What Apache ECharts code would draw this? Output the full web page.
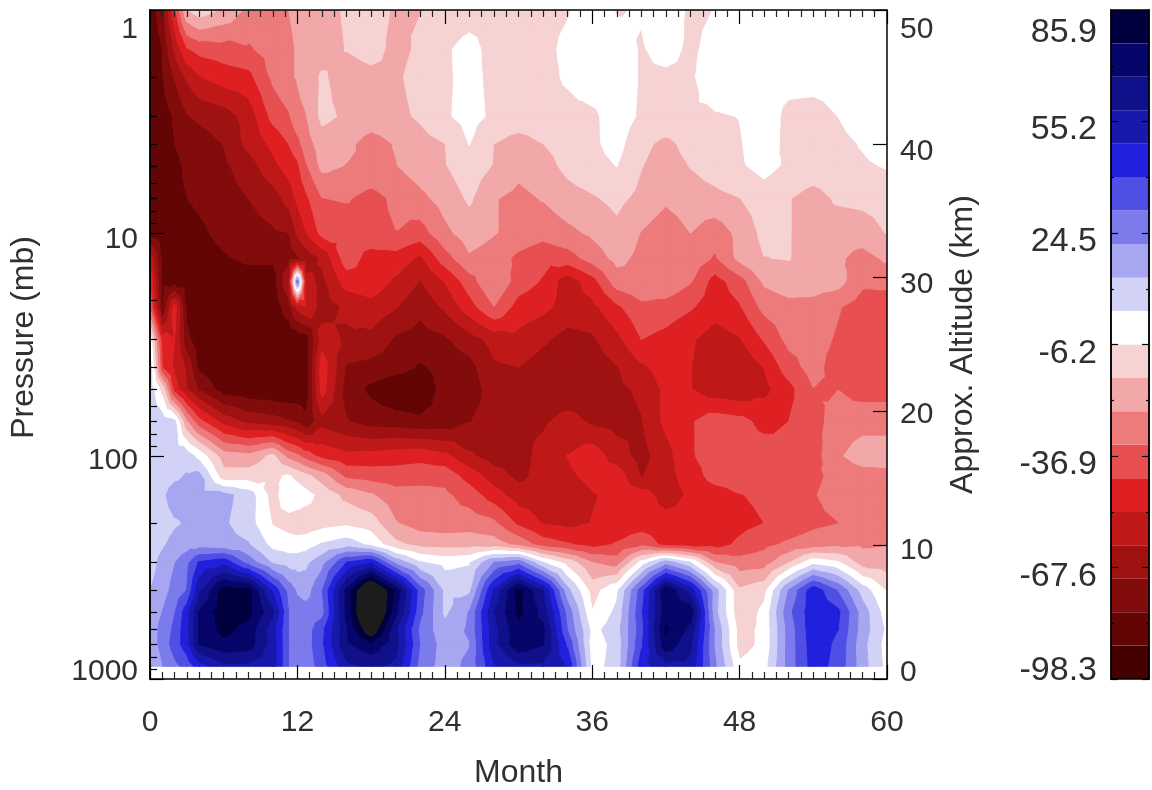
<!DOCTYPE html>
<html><head><meta charset="utf-8">
<style>html,body{margin:0;padding:0;background:#fff}#c{width:1152px;height:790px}</style>
<script src="https://cdn.jsdelivr.net/npm/echarts@6/dist/echarts.min.js"></script>
</head><body><div id="c"></div>
<script>
const months=[0,1,2,3,4,6,8,10,11.3,12,12.7,14,16,18,20,22,24,26,28,30,32,34,36,38,40,42,44,46,48,50,52,54,56,58,60];
const pressures=[1,1.5,2,3,4,5,7,10,13,16.5,21.5,30,40,50,70,100,123,150,200,250,300,400,500,600,700,877];
const temps=[
[-85,-75,-45,-16,-10,-17,-27,-28,-24.6,-23,-22,-20,-14,-12,-16.5,-15.6,-14,-12,-11,-10,-9,-7,0,-6.8,-5.5,0,-8,-6,0,-1,-1,-1,-1,-1,-1],
[-85,-80,-60,-44,-40,-38,-35,-30,-26,-24,-23,-20,-15,-12,-18,-14,-8,-2,-11,-11,-9,-4,0,-2,-7,-3,-8,-3,0,0,0,0,0,0,0],
[-85,-80.5,-70,-60,-53,-48,-46,-32,-26,-24,-21,-14,-20,-18,-17,-12,-8,-3,-9,-9,-9,-5,-1,-1.5,-7,-8,-7.5,-1,-1,-1,-2.5,-2.5,-2,-1,-1],
[-86,-84,-79,-71.5,-69,-66,-58,-40,-35,-27,-25,-13,-17,-19,-18,-14,-7.5,-3,-8,-9,-9,-9,-8,-2,-7.5,-8,-7.5,-7,-6,-1,-9,-10,-6.2,-1,-1],
[-86,-84,-80,-77,-75,-70.5,-59,-50,-43,-37,-29,-20,-22,-29,-24,-19,-15.6,-6,-15.5,-20,-15.5,-12,-8,-3,-13,-18,-12,-9,-7,0,-10,-10,-9,-5.5,-2],
[-86,-85,-82,-78.5,-77,-72.5,-66,-55,-48,-45,-35,-22,-25,-27,-25,-20,-16,-10,-16,-22,-19,-13,-9,-6,-15,-20,-15,-11,-7.5,-3,-8,-10,-9,-7.5,-5.5],
[-85,-84,-82,-80,-78,-74,-70.7,-66,-58,-50,-45,-34,-33,-37,-32,-27,-21,-14,-24,-27,-24,-19,-16.5,-13,-18,-23,-20,-18,-15.6,-11,-15,-19,-14,-13,-12],
[-82,-85,-85,-84,-82,-77,-74,-72,-70.7,-60,-52.5,-40,-39,-37,-34,-38,-27,-20,-24,-28,-31,-27,-23,-18,-25,-30,-24.6,-30,-22,-13,-15,-19,-21,-20,-15],
[-55,-82,-84,-85,-85,-81,-78,-78,-75,-72,-68,-60,-38,-47,-47,-54,-38,-26,-29,-36,-40,-38,-30,-22,-27,-29,-28,-35,-22,-15.6,-15,-20,-23,-28,-23],
[-45,-83,-85,-85,-85.5,-86,-85,-85,-62,28,-58,-64,-48,-46,-54,-62,-52,-38,-25,-38,-44,-58,-47,-29,-27,-26,-33,-47,-38,-23,-19,-20,-21,-32,-31],
[-35,-81,-48,-82,-86,-86,-86,-86,-75,-58,-53,-66,-60,-56,-61,-68,-60,-47,-34,-47,-50,-56,-55,-45,-36,-38,-42,-48,-44,-31,-28,-28,-33,-38,-40],
[0,-48,-52,-78,-85,-86,-87,-87,-87,-87,-85,-57,-63,-64,-72,-75,-72,-66,-58,-55,-60,-65,-63,-55,-43,-46,-51,-57,-53,-42,-31,-30,-35,-40,-40],
[8,-43,-54,-63,-82,-86,-87,-88,-88,-87,-86,-47,-72,-74,-76,-81,-77,-74,-63,-61.5,-66,-68,-66,-62,-54,-48,-52,-58,-60,-52,-38,-30,-39,-40,-38],
[8,-10,-48,-61.5,-72,-85,-87,-88,-88,-87,-85,-48,-75,-82,-88,-88,-76,-75,-67,-66,-68,-69,-67,-63.5,-60,-50,-52,-58,-60,-55,-46,-34,-34,-38,-38],
[8,8,5,-24,-40,-56,-64,-67,-70,-72,-78,-65,-70,-75,-76,-78,-77,-71,-68,-63,-63,-58,-63,-65,-62,-50,-44,-38,-40,-46,-43,-37,-30,-28,-28],
[8,8,8,8,0,-20,-22,-13,-28,-32,-38,-46,-50,-49,-47,-46,-50,-60,-66,-66,-58,-52,-47,-57,-65,-56,-44,-39,-38,-38,-41,-38,-26,-20,-20],
[8,8,10,13,15,-12,-11,-8,-5,-9,-13,-20,-36,-38,-39,-38,-37,-47,-57,-64,-58,-54,-50,-47,-62,-56,-48,-39,-38,-38,-40,-36,-31,-29,-28],
[8,10,17,16,15,15,8,-10,0,0,-3,-9,-18,-23.5,-30,-30,-32,-38,-48,-57,-57,-57,-53,-50,-48,-56,-51,-48,-43.5,-41,-37,-34.5,-30,-28,-28],
[8,8,11,13,14,13.5,7,-7,-10,-12,-12,-10,-8,-11,-24,-29,-30,-29,-32,-45,-53,-55,-52,-50,-48,-49,-50,-50,-46,-43,-40,-36,-34,-29,-28],
[8,11,15,17,17,15,13,0,-2,-2,-1,4,8,1,-13,-18,-19,-19,-20,-27,-38,-42,-46,-42,-36,-46,-48,-47,-41,-36,-32,-29,-27,-26,-25],
[8,15,21,28,41,46,27,11,8,8,10,18,40,48,19,3.5,0,2,21.5,27,3,-10,-24.6,-29,-3,17,3,-24.6,-30,-29,-16,0,-5,-20,-21],
[12,17,25,31,56,81,80,47,27,20,17,30,70,105,75,35,10,10,50,80,58,15,-10,1,35,76,55,16,-14,-9,22,46,30,8,-7],
[17,21.5,30,45,68,82,80,60,30,26,25.5,27,70,110,70,33,10,22,58,79,64,27,-6,5,38,73,73,15,-13,-4,28,46,42,17,-2],
[17,24,33,46,68,80,73,53,30,27,26,37,66,95,60,28,15,23,55,74,70,30,0,8,36,78,65,20,-10,-4,25,46,40,17,1],
[17,24,35,45,68,74,72,54,30,26,26,38,66,74,62,30,17,21,55,74,68,38,-2,6,38,74,60,20,-10,-4,25,45,38,15,-1],
[13,21,28,34,45,56,56,54,30,26,25,35,56,60,56,27,17,24,48,56,56,48,0,6,45,55,56,23,-4.5,-1,25,44,37,16,0]
];
const contourLevels=[-98.3,-89.1,-79.9,-70.7,-61.5,-52.3,-43,-33.8,-24.6,-15.4,-6.2,3,12.2,21.5,30.7,39.9,49.1,58.3,67.5,76.7,85.9];
const bandColors=['#450000','#630505','#820b0b','#a01212','#bf1818','#df2023','#e84f50','#ed7b7c','#f2a7a8','#f7d2d3','#ffffff','#d2d2f7','#a7a7f1','#7b7bec','#4f4fe5','#2020dd','#1818ad','#10108a','#05056a','#000040'];
const aboveColor='#1c1c1c';
const pressureTicks=[1,10,100,1000];
const pressureMinorTicks=[2,3,4,5,6,7,8,9,20,30,40,50,60,70,80,90,200,300,400,500,600,700,800,900];
const pressureLabelAnchors=[1.22,10.75,104.5,930];
const altitudeTicks=[0,10,20,30,40,50];
const altitudeLabelAnchors=[0.5,9.6,19.75,29.5,39.4,48.55];
const barTicks=[-98.3,-67.6,-36.9,-6.2,24.5,55.2,85.9];
const barMinorTicks=[-82.95,-52.25,-21.55,9.15,39.85,70.55];
const barLabelAnchors=[-95.9,-70.1,-39.3,-8.6,22.1,53.1,79.7];

function clipBand(tri,lo,hi){
  const clip=(pts,inside,level)=>{
    const out=[];
    for(let i=0;i<pts.length;i++){
      const a=pts[i],b=pts[(i+1)%pts.length],ia=inside(a[2]),ib=inside(b[2]);
      if(ia)out.push(a);
      if(ia!==ib){const t=(level-a[2])/(b[2]-a[2]);out.push([a[0]+t*(b[0]-a[0]),a[1]+t*(b[1]-a[1]),level]);}
    }
    return out;
  };
  let poly=clip(tri,v=>v>=lo,lo);
  if(poly.length)poly=clip(poly,v=>v<=hi,hi);
  return poly;
}
const levelsAll=contourLevels.concat([1e9]);
const colorsAll=bandColors.concat([aboveColor]);
const bandPolys=colorsAll.map(()=>[]);
const logP=pressures.map(p=>Math.log10(p));
for(let j=0;j<pressures.length-1;j++){
  for(let i=0;i<months.length-1;i++){
    const A=[months[i],logP[j],temps[j][i]],B=[months[i+1],logP[j],temps[j][i+1]],
          C=[months[i+1],logP[j+1],temps[j+1][i+1]],D=[months[i],logP[j+1],temps[j+1][i]];
    const M=[(A[0]+B[0])/2,(A[1]+D[1])/2,(A[2]+B[2]+C[2]+D[2])/4];
    [[A,B,M],[B,C,M],[C,D,M],[D,A,M]].forEach(tri=>{
      const vals=tri.map(p=>p[2]),mx=Math.max(...vals),mn=Math.min(...vals);
      for(let b=0;b<levelsAll.length-1;b++){
        if(mx<levelsAll[b]||mn>levelsAll[b+1])continue;
        const poly=clipBand(tri,levelsAll[b],levelsAll[b+1]);
        if(poly.length>=3)bandPolys[b].push(poly.map(p=>[p[0],Math.pow(10,p[1])]));
      }
    });
  }
}
const FONT='Liberation Sans',TXT='#303030',LINE='#000';
const nearest=(list,v)=>list.reduce((a,b)=>Math.abs(b-v)<Math.abs(a-v)?b:a);
const base={splitLine:{show:false},axisLine:{show:true,onZero:false,lineStyle:{color:LINE,width:1.5}},z:10};
const hiddenLabel={show:false};
const xCommon=Object.assign({},base,{type:'value',min:0,max:60,interval:12,
  axisTick:{show:true,inside:true,length:14,lineStyle:{color:LINE,width:1.2}},
  minorTick:{show:true,splitNumber:12,length:7,lineStyle:{color:'#222',width:1.2}}});
const tickStyle=(len,w)=>({show:true,inside:true,length:len,lineStyle:{color:LINE,width:w||1.2}});
const option={
  animation:false,backgroundColor:'#fff',
  textStyle:{fontFamily:FONT},
  grid:[{left:150,top:10,right:265,bottom:111,outerBoundsMode:'none'},{left:1111,top:10,right:3,bottom:111,outerBoundsMode:'none'}],
  xAxis:[
    Object.assign({},xCommon,{gridIndex:0,position:'bottom',name:'Month',nameLocation:'middle',nameGap:78,
      nameTextStyle:{fontFamily:FONT,fontSize:32,color:TXT},
      axisLabel:{show:true,margin:29,fontFamily:FONT,fontSize:30,color:TXT}}),
    Object.assign({},xCommon,{gridIndex:0,position:'top',axisLabel:hiddenLabel}),
    {gridIndex:1,type:'value',min:0,max:1,position:'bottom',splitLine:{show:false},axisLabel:hiddenLabel,axisTick:{show:false},axisLine:{show:true,onZero:false,lineStyle:{color:LINE,width:1.5}},z:10},
    {gridIndex:1,type:'value',min:0,max:1,position:'top',splitLine:{show:false},axisLabel:hiddenLabel,axisTick:{show:false},axisLine:{show:true,onZero:false,lineStyle:{color:LINE,width:1.5}},z:10}
  ],
  yAxis:[
    Object.assign({},base,{gridIndex:0,type:'log',logBase:10,min:1,max:1000,inverse:true,position:'left',
      name:'Pressure (mb)',nameLocation:'middle',nameGap:110,nameRotate:90,
      nameTextStyle:{fontFamily:FONT,fontSize:32,color:TXT,padding:[0,0,0,14]},
      axisTick:Object.assign(tickStyle(14),{customValues:pressureTicks}),
      axisLabel:{show:true,margin:12,fontFamily:FONT,fontSize:30,color:TXT,hideOverlap:false,
        customValues:pressureLabelAnchors,showMinLabel:true,showMaxLabel:true,
        formatter:v=>String(nearest(pressureTicks,Math.pow(10,Math.round(Math.log10(v)))))}}),
    Object.assign({},base,{gridIndex:0,type:'log',logBase:10,min:1,max:1000,inverse:true,position:'left',
      axisTick:Object.assign(tickStyle(7),{customValues:pressureMinorTicks}),
      axisLabel:{show:false,customValues:pressureMinorTicks}}),
    Object.assign({},base,{gridIndex:0,type:'value',min:0,max:50,position:'right',
      name:'Approx. Altitude (km)',nameLocation:'middle',nameGap:60,nameRotate:90,
      nameTextStyle:{fontFamily:FONT,fontSize:32,color:TXT},
      axisTick:Object.assign(tickStyle(14),{customValues:altitudeTicks}),
      axisLabel:{show:true,margin:13,fontFamily:FONT,fontSize:30,color:TXT,hideOverlap:false,
        customValues:altitudeLabelAnchors,formatter:v=>String(nearest(altitudeTicks,v))}}),
    Object.assign({},base,{gridIndex:1,type:'value',min:-98.3,max:85.9,position:'left',
      axisTick:Object.assign(tickStyle(7),{customValues:barTicks}),
      axisLabel:{show:true,margin:14,fontFamily:FONT,fontSize:34,color:TXT,hideOverlap:false,
        customValues:barLabelAnchors,formatter:v=>String(nearest(barTicks,v))}}),
    Object.assign({},base,{gridIndex:1,type:'value',min:-98.3,max:85.9,position:'left',
      axisTick:Object.assign(tickStyle(3),{customValues:barMinorTicks}),axisLabel:{show:false,customValues:barMinorTicks}}),
    Object.assign({},base,{gridIndex:1,type:'value',min:-98.3,max:85.9,position:'right',
      axisTick:Object.assign(tickStyle(7),{customValues:barTicks}),axisLabel:{show:false,customValues:barTicks}}),
    Object.assign({},base,{gridIndex:1,type:'value',min:-98.3,max:85.9,position:'right',
      axisTick:Object.assign(tickStyle(3),{customValues:barMinorTicks}),axisLabel:{show:false,customValues:barMinorTicks}})
  ],
  series:[
    {type:'custom',xAxisIndex:0,yAxisIndex:0,coordinateSystem:'cartesian2d',silent:true,z:1,clip:true,progressive:0,
     encode:{x:0,y:1},
     data:colorsAll.map(()=>[0,1]),
     renderItem:(params,api)=>{
       const b=params.dataIndex,c=colorsAll[b];
       let d='';
       bandPolys[b].forEach(poly=>{
         poly.forEach((q,i)=>{const p=api.coord(q);d+=(i?'L':'M')+p[0].toFixed(2)+' '+p[1].toFixed(2);});
         d+='Z';
       });
       if(!d)return null;
       return {type:'path',shape:{pathData:d},style:{fill:c,stroke:c,lineWidth:1}};
     }},
    {type:'custom',xAxisIndex:2,yAxisIndex:3,coordinateSystem:'cartesian2d',silent:true,z:1,
     encode:{x:0,y:1},
     data:bandColors.map((c,i)=>[0,contourLevels[i],contourLevels[i+1]]),
     renderItem:(params,api)=>{
       const i=params.dataIndex,a=api.coord([0,contourLevels[i]]),b=api.coord([1,contourLevels[i+1]]);
       return {type:'rect',shape:{x:a[0],y:b[1],width:b[0]-a[0],height:a[1]-b[1]},style:{fill:bandColors[i]}};
     }}
  ]
};
echarts.init(document.getElementById('c'),null,{renderer:'canvas'}).setOption(option);
</script></body></html>
